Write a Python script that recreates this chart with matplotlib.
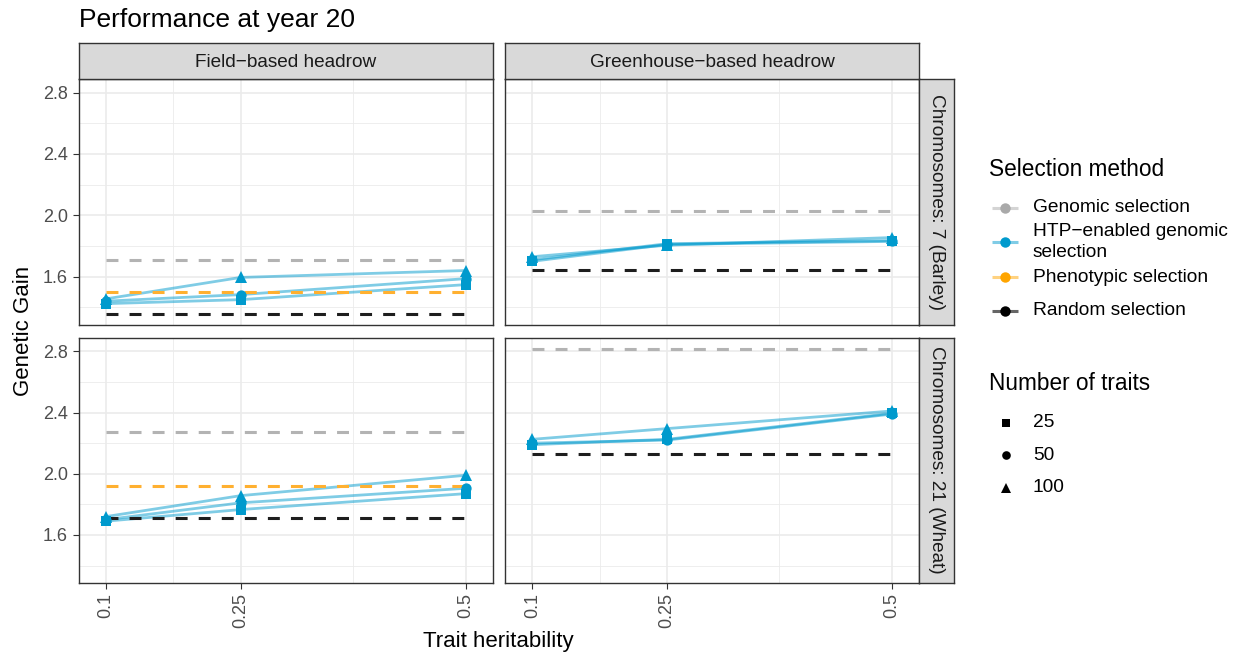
import matplotlib
matplotlib.use("Agg")
import matplotlib.pyplot as plt
import numpy as np

plt.rcParams['font.family'] = ['Liberation Sans', 'DejaVu Sans']
plt.rcParams['lines.scale_dashes'] = False

W, H = 1241, 659

# ---------------- data ----------------
heritability = [0.1, 0.25, 0.5]
col_facets = ["Field\u2212based headrow", "Greenhouse\u2212based headrow"]
row_facets = ["Chromosomes: 7 (Barley)", "Chromosomes: 21 (Wheat)"]
trait_levels = [25, 50, 100]

# HTP-enabled genomic selection: values over heritability per number of traits
htp_barley_field = {25: [1.424, 1.450, 1.548], 50: [1.440, 1.483, 1.587], 100: [1.455, 1.595, 1.640]}
htp_barley_green = {25: [1.700, 1.810, 1.830], 50: [1.710, 1.815, 1.835], 100: [1.730, 1.805, 1.855]}
htp_wheat_field = {25: [1.690, 1.766, 1.870], 50: [1.700, 1.810, 1.905], 100: [1.720, 1.857, 1.990]}
htp_wheat_green = {25: [2.190, 2.225, 2.395], 50: [2.200, 2.220, 2.390], 100: [2.225, 2.295, 2.410]}

# Baselines (constant across heritability): [row][col]
genomic = [[1.706, 2.029], [2.273, 2.815]]
phenotypic = [[1.498, None], [1.918, None]]
random_sel = [[1.359, 1.646], [1.709, 2.132]]

htp = [[htp_barley_field, htp_barley_green], [htp_wheat_field, htp_wheat_green]]

y_ticks = [1.6, 2.0, 2.4, 2.8]
y_minor = [1.4, 1.8, 2.2, 2.6]
x_ticks = [0.1, 0.25, 0.5]
x_tick_labels = ["0.1", "0.25", "0.5"]
x_minor = [0.175, 0.375]

method_labels = ["Genomic selection", "HTP\u2212enabled genomic\nselection",
                 "Phenotypic selection", "Random selection"]

# ---------------- styles ----------------
c_htp = "#009ACD"
c_gs = "#B3B3B3"
c_ps = "#FFB030"
c_rs = "#1E1E1E"
markers = {25: "s", 50: "o", 100: "^"}
msizes = {25: 7.2, 50: 7.4, 100: 8.6}
grid_c = "#EBEBEB"
border_c = "#333333"
tick_c = "#4D4D4D"

fig = plt.figure(figsize=(W / 100, H / 100), dpi=100)


def fx(x):
    return x / W


def fy(y):
    return 1 - y / H


def rect(x0, y0, x1, y1):
    return [fx(x0), fy(y1), fx(x1) - fx(x0), fy(y0) - fy(y1)]


col_x = [(78.5, 493.3), (505.0, 919.3)]
row_y = [(79.0, 324.5), (337.7, 582.7)]
xlim = (0.0696, 0.5307)
ylim = (1.288, 2.889)
dash = (0, (8.6, 8.0))

for r in range(2):
    for c in range(2):
        ax = fig.add_axes(rect(col_x[c][0], row_y[r][0], col_x[c][1], row_y[r][1]))
        ax.set_xlim(*xlim)
        ax.set_ylim(*ylim)
        for g in y_minor:
            ax.axhline(g, color=grid_c, lw=0.6, zorder=0)
        for g in x_minor:
            ax.axvline(g, color=grid_c, lw=0.6, zorder=0)
        for g in y_ticks:
            ax.axhline(g, color=grid_c, lw=1.2, zorder=0)
        for g in x_ticks:
            ax.axvline(g, color=grid_c, lw=1.2, zorder=0)

        # HTP lines
        for t in trait_levels:
            ax.plot(heritability, htp[r][c][t], color=c_htp, alpha=0.5, lw=2.0,
                    solid_capstyle='butt', zorder=2)
        # baselines
        xs = [heritability[0], heritability[-1]]
        ax.plot(xs, [genomic[r][c]] * 2, color=c_gs, lw=2.2, linestyle=dash, zorder=3)
        if phenotypic[r][c] is not None:
            ax.plot(xs, [phenotypic[r][c]] * 2, color=c_ps, lw=2.2, linestyle=dash, zorder=3)
        ax.plot(xs, [random_sel[r][c]] * 2, color=c_rs, lw=2.2, linestyle=dash, zorder=3)
        # markers
        for t in trait_levels:
            ax.plot(heritability, htp[r][c][t], linestyle='none', marker=markers[t],
                    markersize=msizes[t], color=c_htp, markeredgewidth=0, zorder=4)

        for s in ax.spines.values():
            s.set_color(border_c)
            s.set_linewidth(1.0)
        ax.tick_params(length=4.3, width=0.8, color=border_c, labelcolor=tick_c,
                       labelsize=13, pad=3.3)
        ax.set_yticks(y_ticks)
        ax.set_xticks(x_ticks)
        if c == 0:
            ax.set_yticklabels([f"{v:.1f}" for v in y_ticks])
        else:
            ax.set_yticklabels([])
            ax.tick_params(axis='y', length=0)
        if r == 1:
            ax.set_xticklabels(x_tick_labels, rotation=90)
        else:
            ax.set_xticklabels([])
            ax.tick_params(axis='x', length=0)

# strips on top
for c in range(2):
    sax = fig.add_axes(rect(col_x[c][0], 43.3, col_x[c][1], 79.0))
    sax.set_facecolor("#D9D9D9")
    sax.set_xticks([]); sax.set_yticks([])
    for s in sax.spines.values():
        s.set_color(border_c); s.set_linewidth(1.0)
    sax.text(0.5, 0.47, col_facets[c], ha='center', va='center', fontsize=13.7,
             color="#1A1A1A", transform=sax.transAxes)

# strips on right
for r in range(2):
    sax = fig.add_axes(rect(919.3, row_y[r][0], 954.0, row_y[r][1]))
    sax.set_facecolor("#D9D9D9")
    sax.set_xticks([]); sax.set_yticks([])
    for s in sax.spines.values():
        s.set_color(border_c); s.set_linewidth(1.0)
    sax.text(0.5, 0.5, row_facets[r], ha='center', va='center', fontsize=13.7,
             color="#1A1A1A", rotation=-90, transform=sax.transAxes)

# titles
fig.text(fx(79), fy(26.7), "Performance at year 20", fontsize=19, ha='left',
         va='baseline', color='black')
fig.text(fx(24), fy(331), "Genetic Gain", fontsize=16, rotation=90,
         ha='center', va='center', color='black')
fig.text(fx(498.7), fy(642), "Trait heritability", fontsize=16, ha='center',
         va='center', color='black')

# legends (drawn in pixel-coordinate overlay)
lax = fig.add_axes([0, 0, 1, 1], zorder=-1)
lax.set_xlim(0, W)
lax.set_ylim(H, 0)
lax.axis('off')

lax.text(989, 170, "Selection method", fontsize=16.3, ha='left', va='center')
key_y = [207.7, 241.7, 277.0, 310.7]
pt_cols = ["#A9A9A9", c_htp, "#FFA500", "#000000"]
ln_cols = ["#D4D4D4", "#80CCE6", "#FFD280", "#666666"]
for yk, pc, lc, lab in zip(key_y, pt_cols, ln_cols, method_labels):
    lax.plot([992, 1018], [yk, yk], color=lc, lw=2.2, solid_capstyle='butt')
    lax.plot([1005], [yk], marker='o', markersize=7.5, color=pc, markeredgewidth=0)
    lax.text(1033, yk, lab, fontsize=13.8, ha='left', va='center', linespacing=1.3)

lax.text(989, 383, "Number of traits", fontsize=16.3, ha='left', va='center')
trait_y = [422.7, 455.0, 488.0]
for yk, t in zip(trait_y, trait_levels):
    lax.plot([1006], [yk], marker=markers[t], markersize={25: 6.0, 50: 6.2, 100: 7.5}[t],
             color='black', markeredgewidth=0)
    lax.text(1033, yk, str(t), fontsize=13.8, ha='left', va='center')

fig.savefig("out.png", dpi=100)
